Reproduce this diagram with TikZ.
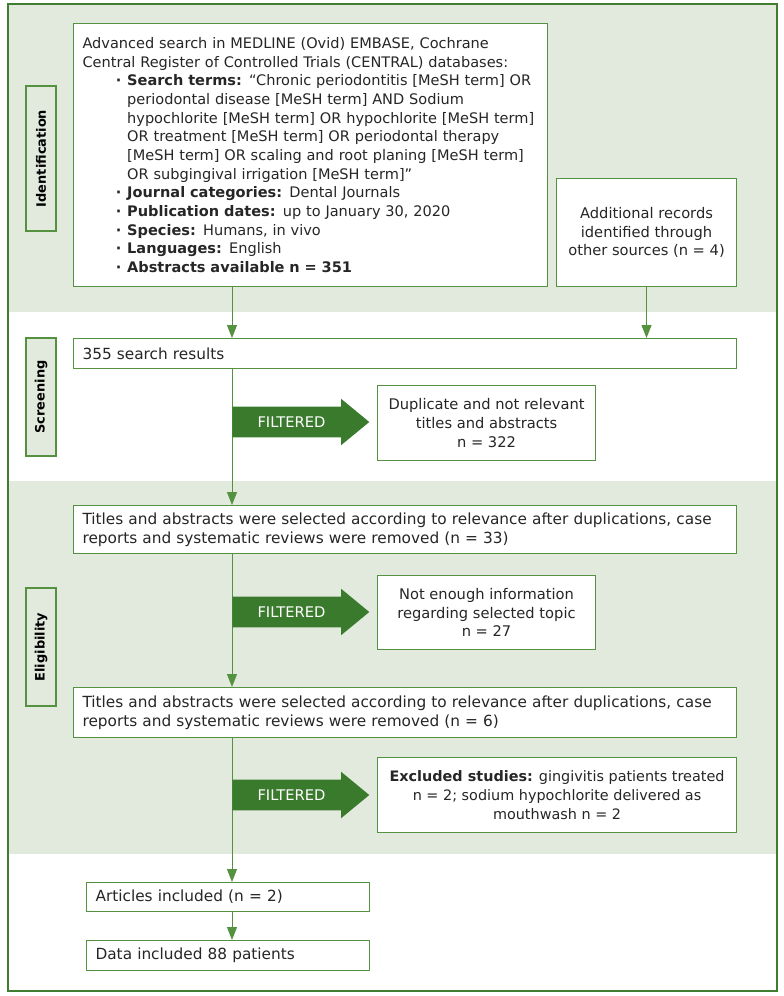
\documentclass[tikz,border=0pt]{standalone}
\usepackage{fontspec}
\setmainfont{DejaVu Sans}
\usetikzlibrary{arrows.meta, shapes.arrows}

\definecolor{bandgreen}{HTML}{E2EADD}
\definecolor{linegreen}{HTML}{55923F}
\definecolor{framegreen}{HTML}{3F7D30}
\definecolor{darkgreen}{HTML}{3A7A2C}

\tikzset{
	box/.style={draw=linegreen, fill=white, line width=0.8pt, inner xsep=6.75pt, inner ysep=0pt,
		font=\fontsize{11.5}{14}\selectfont, text=black!85},
	leftbox/.style={box, align=left, anchor=north west},
	midbox/.style={box, align=center, anchor=north west, font=\fontsize{11}{14}\selectfont},
	stage/.style={draw=linegreen, fill=bandgreen, line width=0.8pt, rotate=90, minimum height=22.5pt,
		font=\fontsize{9.7}{11}\selectfont\bfseries},
	filtered/.style={single arrow, fill=darkgreen, text=white, anchor=tail, minimum height=102.75pt,
		single arrow head extend=6pt, single arrow tip angle=79, inner xsep=4pt, inner ysep=7.5pt,
		text height=7.5pt, text depth=0pt, font=\fontsize{11}{14}\selectfont},
	flow/.style={draw=linegreen, line width=0.75pt, -{Triangle[length=9.75pt, width=7.5pt]}}
}

\begin{document}
\begin{tikzpicture}[x=0.75pt, y=-0.75pt]
	\useasboundingbox (0, 0) rectangle (783, 996);
	% bands
	\fill [bandgreen] (8, 4) rectangle (777, 312);
	\fill [bandgreen] (8, 481) rectangle (777, 854);
	\draw [framegreen, line width=0.9pt] (8, 4) rectangle (777, 991);

	% stages
	\draw node[stage, minimum width=108.75pt] at (41, 158.5) (ident) {Identification};
	\draw node[stage, minimum width=88.5pt] at (41, 397) (screen) {Screening};
	\draw node[stage, minimum width=88.5pt] at (41, 647) (elig) {Eligibility};

	% identification
	\draw node[leftbox, text width=342pt, minimum height=197.25pt, font=\fontsize{10.9}{14}\selectfont] at (73, 23) (search) {%
		Advanced search in MEDLINE (Ovid) EMBASE, Cochrane\\
		Central Register of Controlled Trials (CENTRAL) databases:\\
		\hspace*{25pt}\makebox[8.5pt][l]{\textbf{·}}\textbf{Search terms:} “Chronic periodontitis [MeSH term] OR\\
		\hspace*{33.5pt}periodontal disease [MeSH term] AND Sodium\\
		\hspace*{33.5pt}hypochlorite [MeSH term] OR hypochlorite [MeSH term]\\
		\hspace*{33.5pt}OR treatment [MeSH term] OR periodontal therapy\\
		\hspace*{33.5pt}[MeSH term] OR scaling and root planing [MeSH term]\\
		\hspace*{33.5pt}OR subgingival irrigation [MeSH term]”\\
		\hspace*{25pt}\makebox[8.5pt][l]{\textbf{·}}\textbf{Journal categories:} Dental Journals\\
		\hspace*{25pt}\makebox[8.5pt][l]{\textbf{·}}\textbf{Publication dates:} up to January 30, 2020\\
		\hspace*{25pt}\makebox[8.5pt][l]{\textbf{·}}\textbf{Species:} Humans, in vivo\\
		\hspace*{25pt}\makebox[8.5pt][l]{\textbf{·}}\textbf{Languages:} English\\
		\hspace*{25pt}\makebox[8.5pt][l]{\textbf{·}}\textbf{Abstracts available n = 351}};
	\draw node[midbox, minimum width=135pt, minimum height=81pt] at (556, 178) (extra)
		{Additional records\\identified through\\other sources (n = 4)};

	% screening
	\draw node[leftbox, text width=483.75pt, minimum height=22.5pt] at (73, 338) (results) {355 search results};
	\draw node[midbox, minimum width=163.5pt, minimum height=56.25pt] at (377, 385) (dup)
		{Duplicate and not relevant\\titles and abstracts\\n = 322};

	% eligibility
	\draw node[leftbox, text width=483.75pt, minimum height=36pt] at (73, 505) (sel1)
		{Titles and abstracts were selected according to relevance after duplications, case\\
		reports and systematic reviews were removed (n = 33)};
	\draw node[midbox, minimum width=163.5pt, minimum height=55.5pt] at (377, 575) (info)
		{Not enough information\\regarding selected topic\\n = 27};
	\draw node[leftbox, text width=483.75pt, minimum height=37.5pt] at (73, 687) (sel2)
		{Titles and abstracts were selected according to relevance after duplications, case\\
		reports and systematic reviews were removed (n = 6)};
	\draw node[midbox, minimum width=269.25pt, minimum height=56.25pt, font=\fontsize{10.8}{14}\selectfont] at (377, 757) (excl)
		{\textbf{Excluded studies:} gingivitis patients treated\\n = 2; sodium hypochlorite delivered as\\mouthwash n = 2};

	% included
	\draw node[leftbox, text width=198.75pt, minimum height=21.75pt] at (86, 882) (articles) {Articles included (n = 2)};
	\draw node[leftbox, text width=198.75pt, minimum height=22.5pt] at (86, 940) (data) {Data included 88 patients};

	% connectors
	\coordinate (trunk) at (232, 0);
	\draw [flow] (search.south -| trunk) -- (results.north -| trunk);
	\draw [flow] (extra.south) -- (extra.south |- results.north);
	\draw [flow] (results.south -| trunk) -- (sel1.north -| trunk);
	\draw [flow] (sel1.south -| trunk) -- (sel2.north -| trunk);
	\draw [flow] (sel2.south -| trunk) -- (articles.north -| trunk);
	\draw [flow] (articles.south -| trunk) -- (data.north -| trunk);

	\draw node[filtered] at (232, 422) (f1) {FILTERED};
	\draw node[filtered] at (232, 612) (f2) {FILTERED};
	\draw node[filtered] at (232, 795) (f3) {FILTERED};
\end{tikzpicture}
\end{document}
